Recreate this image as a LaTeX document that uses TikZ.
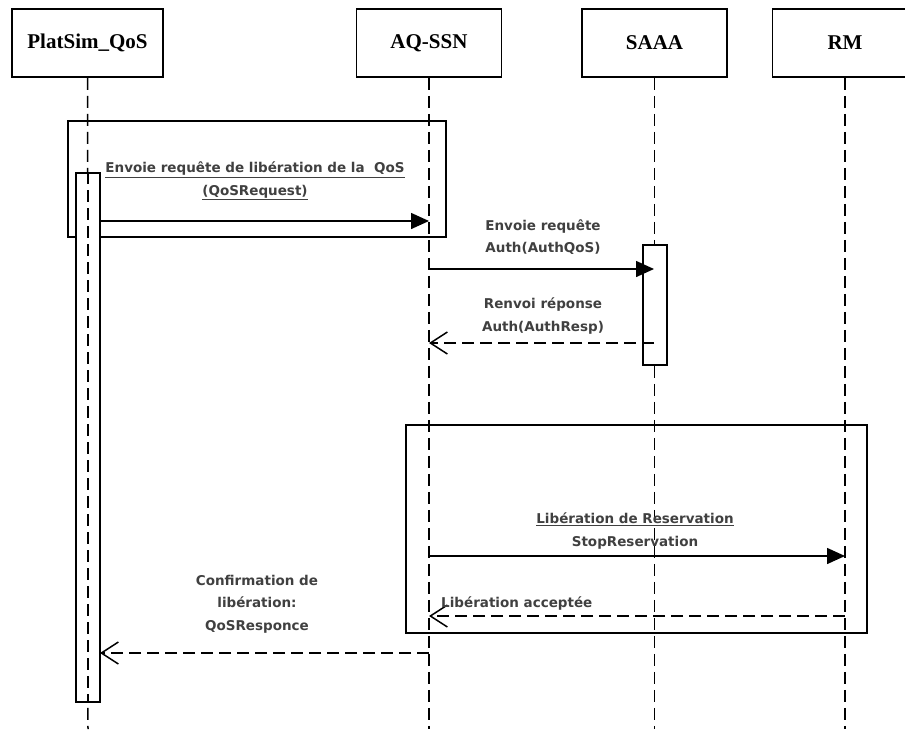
\documentclass[tikz,border=0pt]{standalone}
\usepackage{fontspec}
\setmainfont{Liberation Serif}
\newfontfamily\lblfont{DejaVu Sans}
\usetikzlibrary{arrows.meta,positioning,calc}

\begin{document}
\begin{tikzpicture}[
  x=1pt, y=-1pt,
  actor/.style={draw, line width=1.6pt, minimum width=145pt, minimum height=68pt, inner sep=0pt, font=\bfseries\fontsize{21}{24}\selectfont},
  life/.style={line width=1.5pt, dash pattern=on 12pt off 6pt},
  actbar/.style={draw, line width=1.5pt, fill=white, minimum width=24pt, inner sep=0pt},
  frm/.style={draw, line width=1.5pt},
  msg/.style={-{Triangle[length=18pt,width=16pt]}, line width=1.5pt},
  rep/.style={-{Straight Barb[length=17pt,width=22pt]}, line width=1.5pt, dash pattern=on 12pt off 6pt},
  lbl/.style={font=\lblfont\bfseries\fontsize{13.5}{22.5}\selectfont, text=black!75, align=center, inner sep=1pt}
]
\useasboundingbox (0,0) rectangle (905,729);
\clip (0,0) rectangle (905,729);

% actors
\node[actor, minimum width=151pt] (plat) at (87.5,43) {PlatSim\_QoS};
\node[actor] (aq) at (429,43) {AQ-SSN};
\node[actor] (saaa) at (654.5,43) {SAAA};
\node[actor] (rm) at (845,43) {RM};

% lifelines
\foreach \a/\x in {plat/88, aq/429, saaa/654.5, rm/845} {
  \coordinate (\a-end) at (\x,729);
  \draw[life] (\a.south) -- (\a-end);
}

% frames
\draw[frm] (68,121) rectangle (446,237);
\draw[frm] (406,425) rectangle (867,633);

% activations
\node[actbar, minimum height=529pt] (platact) at (88,437.5) {};
\node[actbar, minimum height=120pt] (saaaact) at (655,305) {};
\draw[life] (platact.north) -- (platact.south);

% message end points
\coordinate (m1b) at (429,221);
\coordinate (m2a) at (429,269);
\coordinate (m2b) at (654,269);
\coordinate (m3a) at (654,343);
\coordinate (m3b) at (429,343);
\coordinate (m4a) at (429,556);
\coordinate (m4b) at (845,556);
\coordinate (m5a) at (845,616);
\coordinate (m5b) at (429,616);
\coordinate (m6a) at (429,653);
\coordinate (m6b) at (100,653);

\draw[msg] (platact.east |- m1b) -- (m1b);
\draw[msg] (m2a) -- (m2b);
\draw[rep] (m3a) -- (m3b);
\draw[msg] (m4a) -- (m4b);
\draw[rep] (m5a) -- (m5b);
\draw[rep] (m6a) -- (m6b);

% labels
\node[lbl] (l1) at (255,181) {\underline{Envoie requête de libération de la\ \ QoS}\\\underline{(QoSRequest)}};
\node[lbl] (l2) at (543,237) {Envoie requête\\Auth(AuthQoS)};
\node[lbl] (l3) at (543,316) {Renvoi réponse\\Auth(AuthResp)};
\node[lbl] (l4) at (635,531) {\underline{Libération de Reservation}\\StopReservation};
\node[lbl, anchor=west] (l5) at (440,603) {Libération acceptée};
\node[lbl] (l6) at (257,604) {Confirmation de\\libération:\\QoSResponce};
\end{tikzpicture}
\end{document}
